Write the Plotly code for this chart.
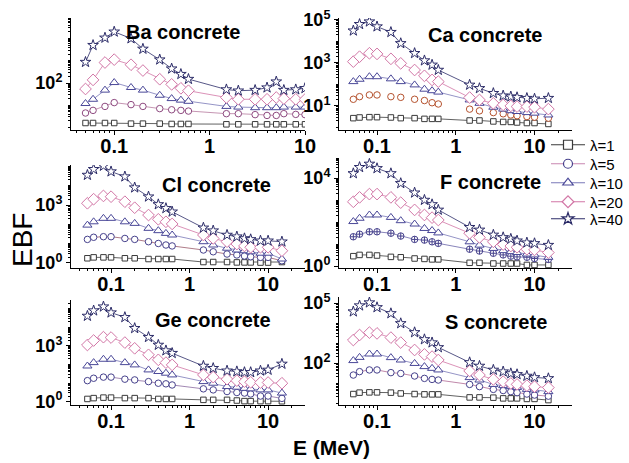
import plotly.graph_objects as go

# ---------------- data ----------------
E = [0.05, 0.06, 0.08, 0.1, 0.15, 0.2, 0.3, 0.4, 0.5, 0.6, 1.5, 2, 3, 4, 5, 6, 8, 10, 15]
E_BA = [0.05, 0.06, 0.08, 0.1, 0.15, 0.2, 0.3, 0.4, 0.5, 0.6, 1.5, 2, 3, 4, 5, 6, 8, 10]
LAMBDAS = ["λ=1", "λ=5", "λ=10", "λ=20", "λ=40"]

BA_L1 = [1.6, 1.6, 1.6, 1.6, 1.5, 1.5, 1.5, 1.45, 1.45, 1.45, 1.4, 1.4, 1.4, 1.4, 1.4, 1.4, 1.4, 1.4]
BA_L5 = [4.5, 5.9, 8.9, 13.2, 10.7, 8.9, 7.1, 6.3, 5.9, 5.5, 4.2, 4.2, 3.8, 3.5, 3.5, 4.2, 3.9, 3.8]
BA_L10 = [12.0, 18.6, 47.9, 105, 63, 47.9, 28.2, 20, 17.0, 15.1, 8.9, 8.3, 7.8, 7.8, 7.8, 8.3, 8.3, 8.3]
BA_L20 = [54, 138, 832, 1122, 661, 363, 148, 87, 58, 45, 22.4, 18.6, 18.6, 18.6, 22.4, 20, 18.6, 18.2]
BA_L40 = [870, 5000, 10700, 20000, 10000, 3400, 1120, 440, 250, 150, 51, 45, 48, 62, 115, 48, 51, 58]

CA_L1 = [2.7, 2.9, 3.0, 3.0, 2.9, 2.7, 2.7, 2.5, 2.5, 2.5, 2.1, 2.1, 1.9, 1.8, 1.8, 1.7, 1.6, 1.6, 1.45]
CA_L5 = [20.4, 26.9, 32.4, 32.4, 26.9, 25.1, 20.4, 17.8, 14.1, 12.3, 7.1, 5.9, 4.9, 4.3, 3.8, 3.5, 3.2, 3.0, 2.7]
CA_L10 = [135, 174, 229, 229, 182, 135, 95, 60, 51, 44, 19, 13.2, 8.7, 7.1, 6.0, 5.5, 4.9, 4.6, 3.8]
CA_L20 = [1150, 1950, 2820, 2630, 1550, 955, 468, 251, 162, 135, 24.5, 19, 13.2, 11.2, 10, 9.3, 9.3, 8.7, 7.1]
CA_L40 = [31600, 63100, 83200, 49000, 26900, 8130, 2820, 1290, 813, 468, 95, 66, 39, 30, 27, 25, 23, 21.4, 23]

CL_L1 = [1.75, 1.95, 1.95, 1.95, 1.75, 1.75, 1.6, 1.6, 1.6, 1.6, 1.12, 1.12, 1.12, 1.07, 1.07, 1.07, 1.05, 1.05, 1.12]
CL_L5 = [16.6, 21.4, 22.9, 22.9, 18.6, 16.6, 12.6, 10.2, 8.5, 7.6, 4.7, 3.8, 2.9, 2.6, 2.3, 2.1, 1.95, 1.95, 1.3]
CL_L10 = [91, 135, 204, 204, 135, 112, 62, 47, 34, 28, 12.6, 8.5, 5.8, 4.7, 4.3, 3.8, 3.2, 3.2, 1.6]
CL_L20 = [1230, 2000, 2950, 2690, 1480, 724, 302, 182, 135, 105, 28, 18.6, 12.6, 9.5, 7.6, 6.5, 6.5, 6.5, 4.3]
CL_L40 = [35500, 70800, 105000, 53700, 29500, 7940, 2690, 1070, 676, 447, 66, 47, 28, 23, 18.6, 16.6, 14.1, 14.1, 12.6]

F_L1 = [2.8, 3.2, 3.2, 3.0, 2.6, 2.5, 2.2, 2.1, 2.0, 2.0, 1.4, 1.4, 1.3, 1.3, 1.3, 1.3, 1.12, 1.12, 1.12]
F_L5 = [21.4, 28, 36, 36, 31, 23, 16.2, 15.1, 12.6, 10.7, 5.8, 4.8, 3.8, 3.2, 2.8, 2.6, 2.5, 2.2, 2.0]
F_L10 = [105, 148, 209, 209, 162, 115, 81, 51, 41, 32, 12.6, 8.9, 6.3, 5.0, 4.5, 4.1, 3.5, 3.2, 2.5]
F_L20 = [832, 1320, 1860, 1860, 1320, 759, 355, 209, 158, 123, 31, 20, 12.6, 9.5, 8.1, 7.1, 5.8, 5.4, 4.1]
F_L40 = [16200, 30900, 43700, 27500, 16200, 5750, 2140, 1000, 631, 355, 58, 44, 26, 20, 17, 14.1, 11.5, 10.7, 8.9]

GE_L1 = [1.4, 1.55, 1.65, 1.65, 1.55, 1.55, 1.55, 1.4, 1.4, 1.4, 1.25, 1.25, 1.25, 1.15, 1.07, 1.07, 1.07, 1.07, 1.05]
GE_L5 = [13.5, 18.2, 20.9, 20.9, 16.2, 14.8, 12, 9.8, 9.1, 7.9, 4.9, 4.3, 3.5, 3.1, 2.9, 2.6, 2.0, 2.0, 1.5]
GE_L10 = [83, 126, 191, 191, 126, 95, 51, 42, 34, 27.5, 12, 9.8, 6.5, 6.0, 5.2, 4.9, 4.3, 4.3, 2.9]
GE_L20 = [1120, 1950, 2950, 2820, 1510, 741, 331, 178, 126, 95, 27.5, 20.9, 16.2, 13.5, 12, 11, 10.7, 10.7, 9.8]
GE_L40 = [40700, 79400, 129000, 61700, 34700, 8900, 2950, 1120, 562, 407, 83, 63, 46, 42, 38, 38, 46, 51, 107]

S_L1 = [2.8, 3.3, 3.4, 3.4, 3.3, 3.0, 2.8, 2.7, 2.7, 2.7, 1.9, 1.9, 1.85, 1.7, 1.7, 1.7, 1.6, 1.6, 1.4]
S_L5 = [25, 37, 45, 45, 33, 30, 22.4, 17, 15.1, 14.1, 8.5, 6.6, 4.8, 4.2, 3.7, 3.3, 2.8, 2.5, 2.2]
S_L10 = [132, 191, 282, 282, 186, 141, 95, 66, 54, 45, 18.6, 14.1, 8.5, 7.4, 6.6, 6.0, 4.8, 4.5, 3.7]
S_L20 = [1410, 2510, 3310, 3020, 1860, 1050, 447, 269, 209, 141, 40, 25, 15.1, 11.7, 9.5, 8.5, 7.4, 6.6, 5.9]
S_L40 = [37200, 74100, 105000, 60300, 30200, 9550, 3390, 1510, 1050, 603, 107, 71, 45, 37, 30, 27, 22.4, 19, 17]

DECADES = [1, 10, 100, 1000, 10000, 100000]
XDECADES = [0.01, 0.1, 1, 10, 100]
XLABELS = ["0.01", "0.1", "1", "10", "100"]

# ---------------- styling ----------------
W, H = 629, 463
FONT = "Liberation Sans, Arial, sans-serif"
SQ_C = "#3a3a3a"
TRI_C, TRI_L = "#4a4898", "#7a78b8"
DIA_C = "#d276a6"
STAR_C = "#2c2c68"
NAVY = "#46418c"


def fx(px):
    return px / W


def fy(py):
    return 1 - py / H


panels = [
    dict(title="Ba concrete", E=E_BA, ys=[BA_L1, BA_L5, BA_L10, BA_L20, BA_L40],
         px=(71, 305), py=(18, 130), xr=(-1.453, 1.0), yr=(-0.11, 4.92), ylab=[100],
         circ=dict(c="#8e4a80", l="#b67a9e", sym="circle", mode="lines+markers"), tpos=(183, 32)),
    dict(title="Ca concrete", E=E, ys=[CA_L1, CA_L5, CA_L10, CA_L20, CA_L40],
         px=(339, 572), py=(18, 130), xr=(-1.483, 1.476), yr=(-0.12, 5.09), ylab=[10, 1000, 100000],
         circ=dict(c="#b5522e", l="#b5522e", sym="circle", mode="markers"), tpos=(485, 35)),
    dict(title="Cl concrete", E=E, ys=[CL_L1, CL_L5, CL_L10, CL_L20, CL_L40],
         px=(71, 305), py=(165, 268), xr=(-1.51, 1.47), yr=(-0.26, 5.07), ylab=[1, 1000],
         circ=dict(c=NAVY, l="#9a5a6a", sym="circle", mode="lines+markers"), tpos=(216, 185)),
    dict(title="F concrete", E=E, ys=[F_L1, F_L5, F_L10, F_L20, F_L40],
         px=(339, 572), py=(158, 268), xr=(-1.483, 1.476), yr=(-0.09, 4.91), ylab=[1, 10000],
         circ=dict(c=NAVY, l="#6a64a8", sym="circle-cross", mode="lines+markers"), tpos=(490, 182)),
    dict(title="Ge concrete", E=E, ys=[GE_L1, GE_L5, GE_L10, GE_L20, GE_L40],
         px=(71, 305), py=(300, 405), xr=(-1.51, 1.47), yr=(-0.18, 5.47), ylab=[1, 1000],
         circ=dict(c=NAVY, l="#8a6aa0", sym="circle", mode="lines+markers"), tpos=(213, 320)),
    dict(title="S concrete", E=E, ys=[S_L1, S_L5, S_L10, S_L20, S_L40],
         px=(339, 572), py=(297, 405), xr=(-1.483, 1.476), yr=(-0.1, 5.3), ylab=[100, 100000],
         circ=dict(c=NAVY, l="#b06a94", sym="circle", mode="lines+markers"), tpos=(496, 322)),
]


def minor_vals(decades, extra=()):
    out = list(extra)
    for d in decades:
        for k in range(2, 10):
            out.append(d * k)
    return out


def sup_label(v):
    exp = len(str(int(v))) - 1
    return "<b>10<sup>%d</sup></b>" % exp


fig = go.Figure()
layout = {}

for i, p in enumerate(panels):
    n = "" if i == 0 else str(i + 1)
    xa, ya = "x" + n, "y" + n
    styles = [
        dict(sym="square", c=SQ_C, l=SQ_C, size=5.5, mode="lines+markers"),
        dict(sym=p["circ"]["sym"], c=p["circ"]["c"], l=p["circ"]["l"], size=6.5, mode=p["circ"]["mode"]),
        dict(sym="triangle-up", c=TRI_C, l=TRI_L, size=8, mode="lines+markers"),
        dict(sym="diamond", c=DIA_C, l=DIA_C, size=9, mode="lines+markers"),
        dict(sym="star", c=STAR_C, l=STAR_C, size=8, mode="lines+markers"),
    ]
    for ys, st in zip(p["ys"], styles):
        fig.add_trace(go.Scatter(
            x=p["E"], y=ys, xaxis=xa, yaxis=ya, mode=st["mode"], showlegend=False,
            line=dict(color=st["l"], width=0.8),
            marker=dict(symbol=st["sym"], size=st["size"], color="white",
                        line=dict(color=st["c"], width=1)),
            hoverinfo="skip"))
    x0, x1 = p["px"]
    y0, y1 = p["py"]
    labeled = [v for v in DECADES if v in p["ylab"]]
    unlabeled = [v for v in DECADES if v not in p["ylab"]]
    layout["xaxis" + n] = dict(
        type="log", range=list(p["xr"]), domain=[fx(x0), fx(x1)], anchor=ya,
        tickmode="array", tickvals=XDECADES, ticktext=["<b>%s</b>" % t for t in XLABELS],
        ticks="outside", ticklen=4, tickwidth=1, tickcolor="black", ticklabelstandoff=-6,
        showline=True, linecolor="black", linewidth=1, showgrid=False, zeroline=False,
        tickfont=dict(family=FONT, size=20, color="black"),
        minor=dict(tickmode="array", tickvals=minor_vals(XDECADES), ticks="outside",
                   ticklen=2, tickwidth=1, tickcolor="black", showgrid=False))
    layout["yaxis" + n] = dict(
        type="log", range=list(p["yr"]), domain=[fy(y1), fy(y0)], anchor=xa,
        tickmode="array", tickvals=labeled, ticktext=[sup_label(v) for v in labeled],
        ticks="outside", ticklen=4, tickwidth=1, tickcolor="black",
        showline=True, linecolor="black", linewidth=1, showgrid=False, zeroline=False,
        tickfont=dict(family=FONT, size=18, color="black"),
        minor=dict(tickmode="array", tickvals=minor_vals(DECADES, unlabeled), ticks="outside",
                   ticklen=2.5, tickwidth=1, tickcolor="black", showgrid=False))

# legend entries, each in its own legend box
leg_styles = [
    dict(sym="square", c=SQ_C, l=SQ_C),
    dict(sym="circle", c=NAVY, l="#c886b0"),
    dict(sym="triangle-up", c=TRI_C, l=TRI_L),
    dict(sym="diamond", c=DIA_C, l=DIA_C),
    dict(sym="star", c=STAR_C, l=STAR_C),
]
leg_y = [145, 164, 183, 202, 219]
for k, (name, st) in enumerate(zip(LAMBDAS, leg_styles)):
    lname = "legend" if k == 0 else "legend%d" % (k + 1)
    fig.add_trace(go.Scatter(
        x=[None], y=[None], mode="lines+markers", name=name, legend=lname,
        line=dict(color=st["l"], width=1),
        marker=dict(symbol=st["sym"], size=9, color="white", line=dict(color=st["c"], width=1.2))))
    layout[lname] = dict(x=fx(546), y=fy(leg_y[k]), xanchor="left", yanchor="middle",
                         bgcolor="rgba(0,0,0,0)", borderwidth=0, itemwidth=34,
                         font=dict(family=FONT, size=15, color="black"))

annotations = []
for p in panels:
    annotations.append(dict(
        text="<b>%s</b>" % p["title"], x=fx(p["tpos"][0]), y=fy(p["tpos"][1]),
        xref="paper", yref="paper", showarrow=False, xanchor="center", yanchor="middle",
        font=dict(family=FONT, size=20, color="black")))
annotations.append(dict(
    text="EBF", x=fx(22), y=fy(240), xref="paper", yref="paper", showarrow=False,
    textangle=-90, xanchor="center", yanchor="middle",
    font=dict(family=FONT, size=28, color="black")))
annotations.append(dict(
    text="<b>E (MeV)</b>", x=fx(331), y=fy(447), xref="paper", yref="paper", showarrow=False,
    xanchor="center", yanchor="middle", font=dict(family=FONT, size=21, color="black")))

fig.update_layout(
    width=W, height=H, margin=dict(l=0, r=0, t=0, b=0, autoexpand=False),
    paper_bgcolor="white", plot_bgcolor="white",
    font=dict(family=FONT, color="black"),
    annotations=annotations,
    showlegend=True,
    **layout)

fig.write_html("out.html", config={"displayModeBar": False},
               post_script="document.body.style.margin='0';document.body.style.overflow='hidden';")
